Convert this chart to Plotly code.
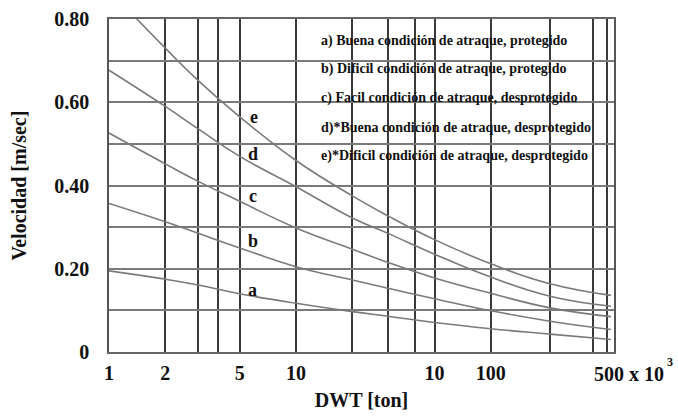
import plotly.graph_objects as go

# DWT in thousands of tons
dwt = [1, 2, 3, 5, 10, 20, 31, 55, 110, 228, 483]
vel_a = [0.195, 0.175, 0.161, 0.140, 0.117, 0.097, 0.086, 0.071, 0.056, 0.043, 0.030]
vel_b = [0.357, 0.313, 0.285, 0.250, 0.205, 0.173, 0.153, 0.128, 0.099, 0.074, 0.054]
vel_c = [0.526, 0.452, 0.410, 0.362, 0.298, 0.247, 0.215, 0.178, 0.141, 0.106, 0.085]
vel_d = [0.677, 0.590, 0.536, 0.470, 0.397, 0.322, 0.285, 0.235, 0.180, 0.134, 0.110]
vel_e = [0.870, 0.730, 0.652, 0.565, 0.460, 0.375, 0.327, 0.270, 0.212, 0.164, 0.136]

curve_names = ["a", "b", "c", "d", "e"]
legend_texts = [
    "a) Buena condición de atraque, protegido",
    "b) Dificil condición de atraque, protegido",
    "c) Facil condición de atraque, desprotegido",
    "d)*Buena condición de atraque, desprotegido",
    "e)*Dificil condición de atraque, desprotegido",
]

x_grid = [1, 2, 3, 3.83, 5, 10, 20, 31, 43, 55, 110, 228, 388, 460]
x_labels = {1: "1", 2: "2", 5: "5", 10: "10", 55: "10", 110: "100"}
y_grid = [0, 0.1, 0.2, 0.3, 0.4, 0.5, 0.6, 0.7, 0.8]
y_labels = {0: "0", 0.2: "0.20", 0.4: "0.40", 0.6: "0.60", 0.8: "0.80"}

FONT = "Liberation Serif, Times New Roman, serif"
BOLD20 = dict(family=FONT, size=20, color="#111", weight="bold")

fig = go.Figure()
for name, vals in zip(curve_names, [vel_a, vel_b, vel_c, vel_d, vel_e]):
    fig.add_trace(go.Scatter(
        x=dwt, y=vals, mode="lines", name=name,
        line=dict(color="#7a7a7a", width=1.6, shape="spline", smoothing=1.3),
        showlegend=False,
    ))

# curve letters
label_pos = {"e": (0.288, 0.706), "d": (0.285, 0.595), "c": (0.285, 0.468),
             "b": (0.285, 0.333), "a": (0.285, 0.186)}
for k, (px, py) in label_pos.items():
    fig.add_annotation(x=px, y=py, xref="paper", yref="paper", text=k,
                       showarrow=False, xanchor="center", yanchor="middle",
                       font=dict(family=FONT, size=18, color="#111", weight="bold"))

legend_y = [0.934, 0.85, 0.763, 0.673, 0.589]
for t, yy in zip(legend_texts, legend_y):
    fig.add_annotation(x=0.416, y=yy, xref="paper", yref="paper", text=t,
                       showarrow=False, xanchor="left", yanchor="middle",
                       font=dict(family=FONT, size=14, color="#111", weight="bold"))

# last x label "500 x 10^3"
fig.add_annotation(x=0.956, y=-0.066, xref="paper", yref="paper",
                   text="500 x 10", showarrow=False,
                   xanchor="left", yanchor="middle", font=BOLD20)
fig.add_annotation(x=1.100, y=-0.03, xref="paper", yref="paper",
                   text="3", showarrow=False,
                   xanchor="left", yanchor="middle",
                   font=dict(family=FONT, size=12, color="#111", weight="bold"))

fig.update_xaxes(
    type="log", range=[0, 2.7], automargin=False,
    tickvals=x_grid, ticktext=[x_labels.get(v, "") for v in x_grid],
    showgrid=True, gridcolor="#3a3a3a", gridwidth=1.5,
    ticks="outside", ticklen=2, tickcolor="rgba(0,0,0,0)",
    showline=True, linecolor="#666", linewidth=2, mirror=True,
    tickfont=BOLD20,
    title=dict(text="DWT [ton]", standoff=10, font=BOLD20),
    zeroline=False,
)
fig.update_yaxes(
    range=[0, 0.8], automargin=False,
    tickvals=y_grid, ticktext=[y_labels.get(round(v, 1), "") for v in y_grid],
    showgrid=True, gridcolor="#7a7a7a", gridwidth=1.6,
    ticks="outside", ticklen=14, tickcolor="rgba(0,0,0,0)",
    showline=True, linecolor="#555", linewidth=1.6, mirror=True,
    tickfont=BOLD20,
    title=dict(text="Velocidad [m/sec]", standoff=22, font=BOLD20),
    zeroline=False,
)

fig.update_layout(
    width=678, height=416,
    margin=dict(l=109, r=64, t=19, b=64),
    paper_bgcolor="white", plot_bgcolor="white",
    font=dict(family=FONT, color="#111"),
)

fig.write_html("out.html", config={"displayModeBar": False},
               post_script="document.body.style.margin='0';document.body.style.overflow='hidden';")
